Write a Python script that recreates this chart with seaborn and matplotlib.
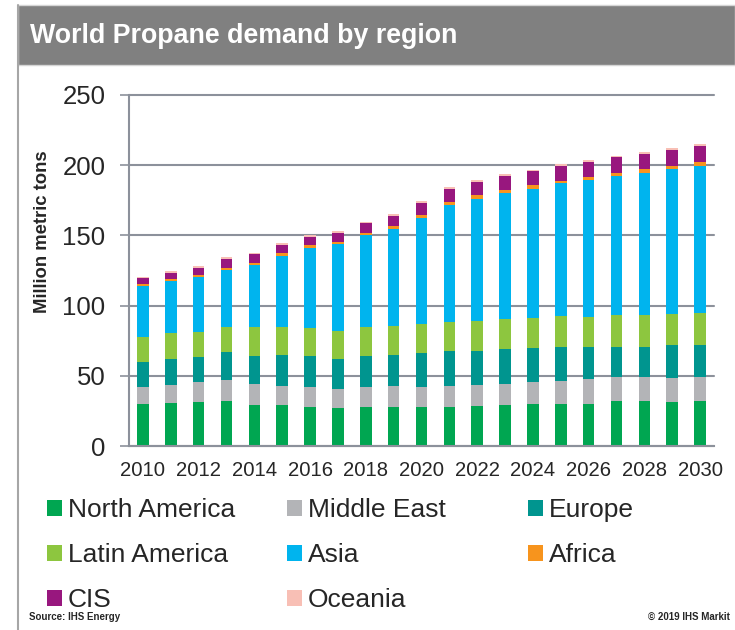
import numpy as np
import pandas as pd
import matplotlib
matplotlib.use("Agg")
import matplotlib.pyplot as plt
import seaborn as sns
from matplotlib.patches import Rectangle, Patch
from matplotlib.lines import Line2D

years = list(range(2010, 2031))
north_america = [30, 30.9, 31.6, 32.1, 29, 29, 27.8, 26.8, 28, 28, 27.7, 28, 28.7, 29, 29.9, 30.2, 30.2, 32, 32, 31.6, 32]
middle_east = [12.2, 12.3, 14, 14.9, 14.9, 14, 14.4, 14, 14.2, 14.5, 14.6, 14.7, 14.7, 15.2, 15.4, 16.3, 17.3, 17.1, 17.1, 16.8, 17.1]
europe = [17.9, 19, 18, 19.7, 20.2, 22, 21.9, 21.4, 21.9, 22.3, 23.7, 25.2, 24.5, 24.6, 24.7, 24.2, 22.9, 21.6, 21.6, 23.3, 22.8]
latin_america = [17.3, 18, 17.6, 18.1, 20.4, 19.5, 20.2, 19.7, 20.4, 20.7, 20.7, 20.7, 21.1, 21.4, 21.4, 21.9, 21.7, 22.4, 22.4, 22.3, 22.8]
asia = [36.6, 37.6, 39.4, 40.6, 44.4, 51.1, 57, 61.7, 65.5, 69.3, 75.8, 83.1, 87.2, 90.2, 91.9, 94.5, 97.4, 99.2, 101.6, 103, 104.7]
africa = [1.4, 1.1, 1.4, 1.4, 1.5, 1.6, 1.7, 1.7, 1.7, 2.1, 2.2, 2.3, 2.3, 1.9, 2.4, 1.9, 2.3, 2.4, 2.3, 2.4, 2.6]
cis = [4, 4.6, 4.6, 6.4, 6.4, 6, 6.1, 6.6, 6.9, 6.9, 8.6, 9.3, 9.8, 10, 9.9, 10.4, 10.7, 10.9, 11, 11.4, 11.7]
oceania = [1.2, 1.2, 1.3, 1.2, 1.0, 1.2, 1.2, 1.2, 1.2, 1.3, 1.0, 1.3, 1.2, 1.3, 1.3, 1.2, 1.2, 1.2, 1.2, 1.2, 1.3]

regions = ["North America", "Middle East", "Europe", "Latin America",
           "Asia", "Africa", "CIS", "Oceania"]
series = [north_america, middle_east, europe, latin_america, asia, africa, cis, oceania]
colors = ["#00A651", "#B3B4B7", "#00958F", "#8DC63F",
          "#00B4EE", "#F7941D", "#98177E", "#F8BFB5"]

title = "World Propane demand by region"
ylabel = "Million metric tons"
source = "Source: IHS Energy"
copyright_txt = "\u00a9 2019 IHS Markit"

sns.set_style("white")
plt.rcParams["font.family"] = ["Liberation Sans", "DejaVu Sans"]

W, H = 735, 630
fig = plt.figure(figsize=(W / 100, H / 100), dpi=100)
ax = fig.add_axes([129 / W, 1 - 446 / H, (714 - 129) / W, (446 - 95) / H])

df = pd.DataFrame({"year": [str(y) for y in years]})
for r, s in zip(regions, series):
    df[r] = s
cum = df[regions].cumsum(axis=1)

for r, c in reversed(list(zip(regions, colors))):
    sns.barplot(x=df["year"], y=cum[r], color=c, saturation=1, width=0.42,
                linewidth=0, ax=ax)

grid_c = "#8C919B"
ax.set_xlim(-0.5, 20.5)
ax.set_ylim(0, 250)
ax.set_yticks(range(0, 251, 50))
ax.yaxis.grid(True, color=grid_c, lw=1.5)
ax.xaxis.grid(False)
ax.set_axisbelow(True)
for sp in ["top", "right"]:
    ax.spines[sp].set_visible(False)
for sp in ["left", "bottom"]:
    ax.spines[sp].set_color(grid_c)
    ax.spines[sp].set_linewidth(1.5)

ax.set_xticks(range(0, 21, 2))
ax.set_xticklabels([str(y) for y in years[::2]])
ax.set_xticks(np.arange(-0.5, 21, 1), minor=True)
ax.tick_params(axis="x", which="major", length=0, labelsize=14.6, pad=11)
ax.tick_params(axis="x", which="minor", length=6, width=1.2, color=grid_c, direction="out")
ax.tick_params(axis="y", length=6.5, width=1.2, color=grid_c, labelsize=18.5, pad=10.5, left=True)
ax.set_xlabel("")
ax.set_ylabel("")
if ax.get_legend() is not None:
    ax.get_legend().remove()
for l in ax.get_ygridlines():
    l.set_clip_on(False)

fig.text(43 / W, 1 - 232 / H, ylabel, rotation=90, fontsize=13.3, fontweight="bold",
         ha="center", va="center")

# title banner
fig.add_artist(Rectangle((18 / W, 1 - 65 / H), 1 - 18 / W, 60 / H, transform=fig.transFigure,
                         facecolor="#808080", edgecolor="#D5D5D5", lw=1))
fig.text(30 / W, 1 - 36 / H, title, color="white", fontsize=19.3, fontweight="bold",
         ha="left", va="center")
fig.add_artist(Line2D([18 / W, 18 / W], [0, 1 - 5 / H], transform=fig.transFigure,
                      color="#A6A6A6", lw=1.5))

# legend in three columns
col_idx = [[0, 3, 6], [1, 4, 7], [2, 5]]
col_x = [47, 287, 528]
for idxs, x in zip(col_idx, col_x):
    handles = [Patch(facecolor=colors[i], edgecolor="none") for i in idxs]
    labels = [regions[i] for i in idxs]
    fig.legend(handles, labels, loc="upper left", bbox_to_anchor=(x / W, 1 - 498 / H),
               frameon=False, fontsize=19, handlelength=0.57, handleheight=0.57,
               handletextpad=0.23, labelspacing=0.8, borderpad=0, borderaxespad=0)

fig.text(29 / W, 1 - 617 / H, source, fontsize=7, fontweight="bold", va="center", ha="left")
fig.text(730 / W, 1 - 617 / H, copyright_txt, fontsize=7, fontweight="bold", va="center", ha="right")

fig.savefig("out.png", dpi=100)
